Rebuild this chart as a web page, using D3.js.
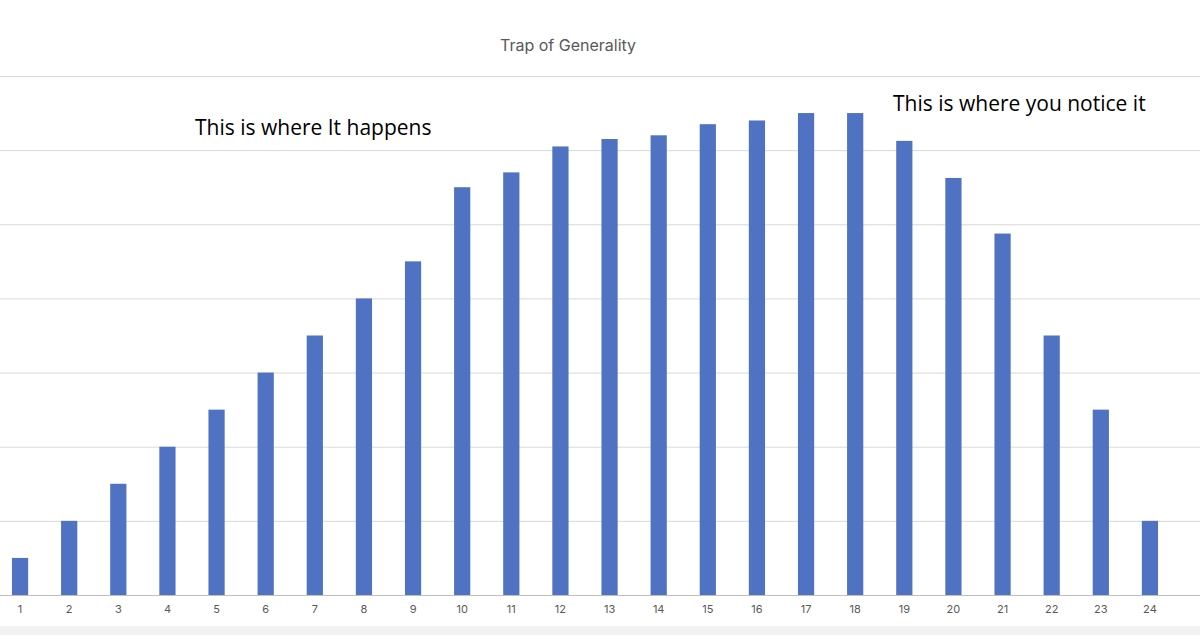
<!DOCTYPE html>
<html><head><meta charset="utf-8">
<script src="https://cdn.jsdelivr.net/npm/d3@7.9.0/dist/d3.min.js"></script>
<style>body{margin:0;background:#fff}svg{display:block}</style>
</head><body>
<svg id="chart" width="1200" height="635"></svg>
<script>
var categories = ["1","2","3","4","5","6","7","8","9","10","11","12","13","14","15","16","17","18","19","20","21","22","23","24"];
var values = [1,2,3,4,5,6,7,8,9,11,11.4,12.1,12.3,12.4,12.7,12.8,13,13,12.25,11.25,9.75,7,5,2];
var gridTicks = [0,2,4,6,8,10,12,14];
var notes = [
  {text: "This is where It happens", x: 195, y: 135},
  {text: "This is where you notice it", x: 893, y: 111}
];

var svg = d3.select("#chart");
var W = 1200, baseY = 595, topY = 76;

var x = d3.scaleBand().domain(categories).range([-4.5, 1174.5]).paddingInner(0.67).paddingOuter(0.335);
var y = d3.scaleLinear().domain([0, 14]).range([baseY, topY]);

// gridlines
svg.append("g").selectAll("line").data(gridTicks).join("line")
  .attr("x1", 0).attr("x2", W)
  .attr("y1", function (d) { return y(d) + 0.5; }).attr("y2", function (d) { return y(d) + 0.5; })
  .attr("stroke", function (d) { return d === 0 ? "#bfbfbf" : "#d9d9d9"; })
  .attr("stroke-width", 1);

// bars
svg.append("g").selectAll("rect").data(values).join("rect")
  .attr("x", function (d, i) { return x(categories[i]); })
  .attr("width", x.bandwidth())
  .attr("y", function (d) { return y(d); })
  .attr("height", function (d) { return baseY - y(d); })
  .attr("fill", "#4f72c2");

// x axis labels
var xAxis = d3.axisBottom(x).tickSize(0).tickPadding(10);
var ax = svg.append("g").attr("transform", "translate(0," + baseY + ")").call(xAxis);
ax.select(".domain").remove();
ax.selectAll("text").attr("fill", "#595959").attr("font-size", "11px").attr("font-family", "Inter, 'Open Sans', sans-serif");

// title
svg.append("text").attr("x", 568).attr("y", 51).attr("text-anchor", "middle")
  .attr("fill", "#595959").attr("font-size", "16px").attr("font-family", "Inter, 'Open Sans', sans-serif")
  .text("Trap of Generality");

// annotations
svg.append("g").selectAll("text").data(notes).join("text")
  .attr("x", function (d) { return d.x; }).attr("y", function (d) { return d.y; })
  .attr("fill", "#000").attr("font-size", "21px").attr("font-family", "'Open Sans', 'Noto Sans', sans-serif")
  .text(function (d) { return d.text; });

// bottom strip
svg.append("rect").attr("x", 0).attr("y", 626).attr("width", W).attr("height", 9).attr("fill", "#f2f2f2");
</script>
</body></html>
